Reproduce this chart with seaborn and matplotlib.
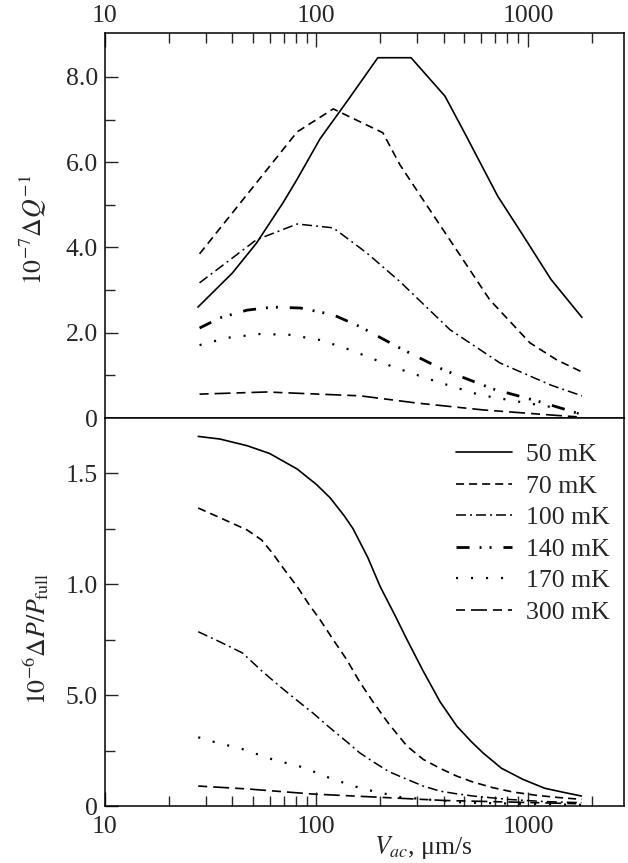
import matplotlib
matplotlib.use("Agg")
import matplotlib.pyplot as plt
import seaborn as sns
import pandas as pd
from matplotlib.ticker import NullFormatter, FixedLocator

# ---------------- data ----------------
labels_T = ["50 mK", "70 mK", "100 mK", "140 mK", "170 mK", "300 mK"]

# top panel: 10^-7 dQ^-1 vs V_ac (um/s)
q50_x = [27.5, 40, 52, 69.5, 81, 104, 141, 195, 280, 405, 500, 720, 957, 1285, 1800]
q50_y = [2.6, 3.4, 4.1, 5.05, 5.6, 6.55, 7.46, 8.45, 8.45, 7.55, 6.7, 5.2, 4.25, 3.25, 2.36]
q70_x = [28, 81, 120, 206, 248, 319, 450, 660, 1023, 1371, 1800]
q70_y = [3.85, 6.71, 7.25, 6.69, 5.94, 5.12, 4.01, 2.77, 1.76, 1.36, 1.08]
q100_x = [28, 52, 81, 120, 173, 248, 428, 738, 1285, 1800]
q100_y = [3.17, 4.18, 4.55, 4.46, 3.87, 3.2, 2.07, 1.29, 0.77, 0.52]
q140_x = [28, 35, 47, 62, 84, 120, 161, 248, 398, 684, 1178, 1800]
q140_y = [2.11, 2.35, 2.53, 2.6, 2.58, 2.42, 2.14, 1.64, 1.13, 0.68, 0.36, 0.08]
q170_x = [28, 37.7, 54, 75, 104, 144, 230, 372, 593, 989, 1615, 1800]
q170_y = [1.71, 1.88, 1.97, 1.95, 1.83, 1.6, 1.2, 0.85, 0.54, 0.35, 0.18, 0.06]
q300_x = [28, 58, 161, 299, 612, 1285, 1800]
q300_y = [0.56, 0.61, 0.52, 0.35, 0.19, 0.07, 0.02]

# bottom panel: 10^-6 dP/P_full vs V_ac (um/s)
p50_x = [27.6, 35, 47, 60, 81, 100, 116, 135, 149, 175, 200, 235, 268, 319, 384,
         461, 540, 612, 750, 947, 1200, 1500, 1790]
p50_y = [1.667, 1.655, 1.625, 1.59, 1.52, 1.45, 1.39, 1.31, 1.25, 1.12, 0.99, 0.86,
         0.75, 0.61, 0.47, 0.36, 0.29, 0.24, 0.17, 0.12, 0.08, 0.06, 0.045]
p70_x = [27.6, 35, 47, 55, 62, 70, 81, 92, 104, 120, 139, 160, 185, 220, 268, 320,
         384, 460, 550, 680, 850, 1100, 1400, 1790]
p70_y = [1.344, 1.30, 1.245, 1.20, 1.14, 1.07, 0.99, 0.91, 0.84, 0.75, 0.66, 0.56,
         0.47, 0.37, 0.27, 0.21, 0.17, 0.135, 0.108, 0.083, 0.063, 0.048, 0.038, 0.03]
p100_x = [27.6, 35, 44.7, 55, 67, 80, 96, 115, 139, 160, 185, 220, 268, 320, 384,
          460, 550, 800, 1200, 1790]
p100_y = [0.786, 0.74, 0.69, 0.61, 0.54, 0.48, 0.42, 0.355, 0.29, 0.24, 0.2, 0.155,
          0.12, 0.09, 0.067, 0.055, 0.045, 0.03, 0.02, 0.015]
p170_x = [27.6, 32.5, 44.9, 62, 86, 120, 166, 250, 500, 1790]
p170_y = [0.31, 0.29, 0.256, 0.21, 0.175, 0.12, 0.077, 0.04, 0.015, 0.005]
p300_x = [27.6, 47, 96, 193, 400, 1790]
p300_y = [0.09, 0.077, 0.054, 0.04, 0.025, 0.01]

xticks = [10, 100, 1000]
xtick_labels = ["10", "100", "1000"]
top_yticks = [0, 2, 4, 6, 8]
top_ylabels = ["0", "2.0", "4.0", "6.0", "8.0"]
top_yminor = [1, 3, 5, 7]
bot_yticks = [0, 0.5, 1.0, 1.5]
bot_ylabels = ["0", "5.0", "1.0", "1.5"]
bot_yminor = [0.25, 0.75, 1.25]

# ---------------- style ----------------
sns.set_theme(style="ticks")
plt.rcParams["font.family"] = ["Liberation Serif", "DejaVu Serif"]
plt.rcParams["mathtext.fontset"] = "stix"
plt.rcParams["lines.scale_dashes"] = False
plt.rcParams["axes.linewidth"] = 1.1
plt.rcParams["ytick.right"] = False
plt.rcParams["ytick.minor.right"] = False
plt.rcParams["ytick.major.right"] = False
plt.rcParams["xtick.top"] = False

styles = {
    "50 mK": dict(lw=1.2, dashes=None),
    "70 mK": dict(lw=1.2, dashes=(5.8, 3.6)),
    "100 mK": dict(lw=1.1, dashes=(7.2, 2.9, 1.4, 2.9)),
    "140 mK": dict(lw=2.0, dashes=(9.4, 7.2, 1.4, 5.8, 1.4, 8.6)),
    "170 mK": dict(lw=1.6, dashes=(1.5, 9.3)),
    "300 mK": dict(lw=1.2, dashes=(6.5, 4.3, 11.5, 4.3)),
}

fig = plt.figure(figsize=(6.28, 8.63), dpi=100)
L, W = 105 / 628, 519 / 628
ax1 = fig.add_axes([L, 1 - 418 / 863, W, 385 / 863])
ax2 = fig.add_axes([L, 1 - 806 / 863, W, 388 / 863])

top_series = [(q50_x, q50_y), (q70_x, q70_y), (q100_x, q100_y),
              (q140_x, q140_y), (q170_x, q170_y), (q300_x, q300_y)]
bot_series = {"50 mK": (p50_x, p50_y), "70 mK": (p70_x, p70_y),
              "100 mK": (p100_x, p100_y), "170 mK": (p170_x, p170_y),
              "300 mK": (p300_x, p300_y)}

handles = []
for lab, (xs, ys) in zip(labels_T, top_series):
    st = styles[lab]
    df = pd.DataFrame({"x": xs, "y": ys})
    sns.lineplot(data=df, x="x", y="y", ax=ax1, color="black", lw=st["lw"], legend=False)
    ln = ax1.lines[-1]
    if st["dashes"]:
        ln.set_dashes(st["dashes"])
    handles.append(ln)

for lab in labels_T:
    if lab not in bot_series:
        continue
    xs, ys = bot_series[lab]
    st = styles[lab]
    df = pd.DataFrame({"x": xs, "y": ys})
    sns.lineplot(data=df, x="x", y="y", ax=ax2, color="black", lw=st["lw"], legend=False)
    ln = ax2.lines[-1]
    if st["dashes"]:
        ln.set_dashes(st["dashes"])

FS = 18.5
for ax in (ax1, ax2):
    ax.set_xscale("log")
    ax.set_xlim(10, 2845)
    ax.set_xlabel("")
    ax.set_ylabel("")
    for s in ax.spines.values():
        s.set_visible(True)
        s.set_linewidth(1.1)
        s.set_color("black")
    ax.xaxis.set_minor_formatter(NullFormatter())
    ax.set_facecolor("white")

# top axes
ax1.set_ylim(0, 9.03)
ax1.set_xticks(xticks, labels=xtick_labels)
ax1.set_yticks(top_yticks, labels=top_ylabels)
ax1.yaxis.set_minor_locator(FixedLocator(top_yminor))
ax1.tick_params(axis="x", which="both", top=True, bottom=False, labeltop=True,
                labelbottom=False, direction="in", labelsize=FS, pad=4)
ax1.tick_params(axis="x", which="major", length=10, width=1)
ax1.tick_params(axis="x", which="minor", length=7, width=1)
ax1.tick_params(axis="y", which="both", left=True, right=False, labelleft=True,
                labelright=False, direction="in", labelsize=FS, pad=5)
ax1.tick_params(axis="y", which="major", length=9, width=1)
ax1.tick_params(axis="y", which="minor", length=7, width=1)

# bottom axes
ax2.set_ylim(0, 1.75)
ax2.set_xticks(xticks, labels=xtick_labels)
ax2.set_yticks(bot_yticks, labels=bot_ylabels)
ax2.yaxis.set_minor_locator(FixedLocator(bot_yminor))
ax2.tick_params(axis="x", which="both", top=False, bottom=True, labeltop=False,
                labelbottom=True, direction="in", labelsize=FS, pad=7)
ax2.tick_params(axis="x", which="major", length=10, width=1)
ax2.tick_params(axis="x", which="minor", length=7, width=1)
ax2.tick_params(axis="y", which="both", left=True, right=False, labelleft=True,
                labelright=False, direction="in", labelsize=FS, pad=5)
ax2.tick_params(axis="y", which="major", length=9, width=1)
ax2.tick_params(axis="y", which="minor", length=7, width=1)

ax1.set_ylabel(r"$10^{-7}\Delta Q^{-1}$", fontsize=FS)
ax1.yaxis.set_label_coords(-0.11, 0.49)
ax2.set_ylabel(r"$10^{-6}\Delta P/P_{\rm full}$", fontsize=FS)
ax2.yaxis.set_label_coords(-0.105, 0.43)
ax2.set_xlabel(r"$V_{ac}$, μm/s", fontsize=FS)
ax2.xaxis.set_label_coords(0.613, -0.072)

ax2.legend(handles=handles, labels=labels_T, loc="upper right",
           bbox_to_anchor=(0.973, 0.935), frameon=False, fontsize=FS,
           handlelength=2.2, handletextpad=0.55, labelspacing=0.33,
           borderaxespad=0, borderpad=0)

fig.savefig("out.png", dpi=100)
